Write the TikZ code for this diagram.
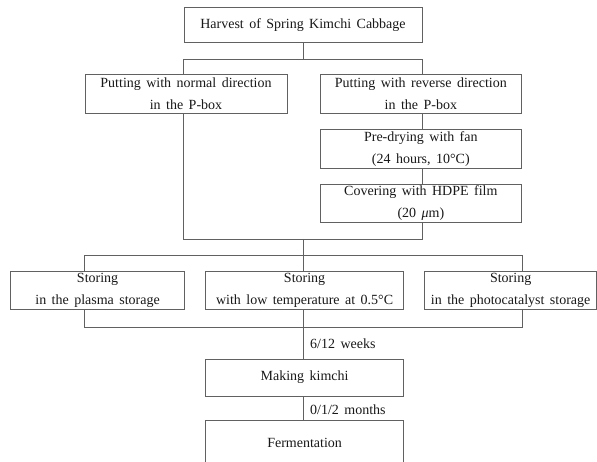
\documentclass[tikz,border=0pt]{standalone}
\usepackage{fontspec}
\setmainfont{Liberation Serif}[WordSpace=1.56]
\begin{document}
\begin{tikzpicture}[x=1pt,y=-1pt,
  box/.style={draw=black!62,line width=0.8pt,align=center,inner sep=0pt,
    font=\fontsize{14}{22}\selectfont,text=black!90},
  lbl/.style={font=\fontsize{14}{22}\selectfont,text=black!90,inner sep=0pt,anchor=west},
  conn/.style={draw=black!62,line width=0.8pt}]
\useasboundingbox[fill=white] (0,0) rectangle (597,462);
% boxes
\node[box,minimum width=238,minimum height=35.4] (top) at (303,25) {Harvest of Spring Kimchi Cabbage};
\node[box,minimum width=202,minimum height=39.3] (pn) at (186,93.7) {Putting with normal direction\\in the P-box};
\node[box,minimum width=201.7,minimum height=39.3] (pr) at (420.85,93.7) {Putting with reverse direction\\in the P-box};
\node[box,minimum width=201.7,minimum height=39] (pd) at (420.85,148.8) {Pre-drying with fan\\(24 hours, 10°C)};
\node[box,minimum width=201.7,minimum height=38.4] (cv) at (420.85,203.5) {Covering with HDPE film\\(20 {\itshape μ}m)};
\node[box,minimum width=173.8,minimum height=38.7] (sp) at (97.6,290.3) {Storing\\in the plasma storage};
\node[box,minimum width=198.2,minimum height=38.7] (sl) at (304.6,290.3) {Storing\\with low temperature at 0.5°C};
\node[box,minimum width=171.7,minimum height=38.7] (sc) at (510.65,290.3) {Storing\\in the photocatalyst storage};
\node[box,minimum width=198.2,minimum height=37] (mk) at (304.6,377.5) {Making kimchi};
\node[box,minimum width=198.2,minimum height=44] (fe) at (304.6,442.7) {Fermentation};
% junction coordinates
\coordinate (j1) at (303,59);
\coordinate (j2) at (303,239);
\coordinate (j3) at (303,255.5);
\coordinate (j4) at (303,327.3);
% connectors
\draw[conn] (top.south) -- (j1);
\draw[conn] (top.south west |- pn.north) -- (top.south west |- j1) -- (top.south east |- j1) -- (top.south east |- pr.north);
\draw[conn] (top.south east |- pr.south) -- (top.south east |- pd.north);
\draw[conn] (top.south east |- pd.south) -- (top.south east |- cv.north);
\draw[conn] (top.south west |- pn.south) -- (top.south west |- j2) -- (top.south east |- j2) -- (top.south east |- cv.south);
\draw[conn] (j2) -- (j3);
\draw[conn] (pn.west |- sp.north) -- (pn.west |- j3) -- (pr.east |- j3) -- (pr.east |- sc.north);
\draw[conn] (j3) -- (j3 |- sl.north);
\draw[conn] (pn.west |- sp.south) -- (pn.west |- j4) -- (pr.east |- j4) -- (pr.east |- sc.south);
\draw[conn] (j4 |- sl.south) -- (j4 |- mk.north);
\draw[conn] (j4 |- mk.south) -- (j4 |- fe.north);
% labels
\node[lbl] (w) at (310,344) {6/12 weeks};
\node[lbl] (m) at (310,409.3) {0/1/2 months};
\end{tikzpicture}
\end{document}
